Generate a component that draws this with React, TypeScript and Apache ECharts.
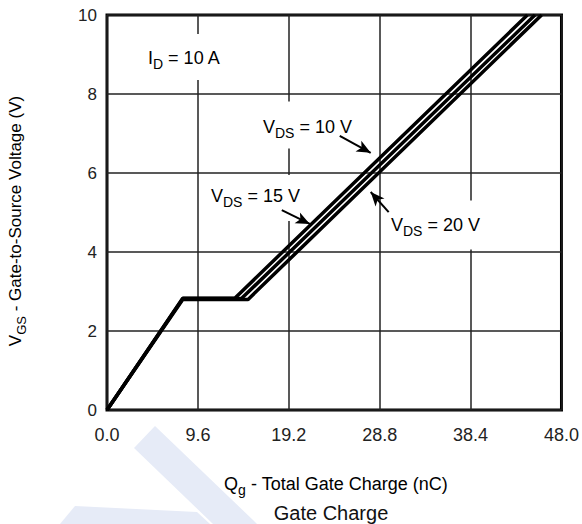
import React, { useEffect, useRef } from "react";
import * as echarts from "echarts";

// Gate charge curves: Qg (nC) vs VGS (V)
const vds10Q = [0, 8.0, 13.5, 44.4];
const vds10V = [0, 2.83, 2.83, 10];
const vds15Q = [0, 8.0, 14.2, 45.2];
const vds15V = [0, 2.82, 2.82, 10];
const vds20Q = [0, 8.0, 14.9, 45.9];
const vds20V = [0, 2.80, 2.80, 10];

// Annotation arrows (tail -> tip) in data coords
const arrow10 = [[24.58, 6.94], [27.85, 6.51]];
const arrow15 = [[18.46, 5.06], [21.42, 4.71]];
const arrow20 = [[29.75, 5.01], [27.85, 5.52]];

const FONT = "'Liberation Sans', Arial, sans-serif";
const TXT = "#222";

function pairs(q: number[], v: number[]) {
  return q.map((x, i) => [x, v[i]]);
}

export default function App() {
  const ref = useRef<HTMLDivElement>(null);
  useEffect(() => {
    if (!ref.current) return;
    const chart = echarts.init(ref.current, null, { renderer: "svg" });
    const lineStyle = { color: "#000", width: 3.5 };
    const mkArrow = (a: number[][]) => [
      { coord: a[0], symbol: "none" },
      { coord: a[1], symbol: "arrow" },
    ];
    const sub = (size: number) => ({
      fontSize: size,
      fontFamily: FONT,
      color: TXT,
      lineHeight: size,
      verticalAlign: "bottom",
    });
    const main = (size: number, extra = 6) => ({
      fontSize: size,
      fontFamily: FONT,
      color: TXT,
      lineHeight: size + extra,
    });
    const label = (x: number, y: number, text: string, pad: number[]) => ({
      type: "text",
      x,
      y,
      z: 1,
      style: {
        text,
        align: "left",
        verticalAlign: "middle",
        backgroundColor: "#fff",
        padding: pad,
        rich: { m: main(18, 8), s: sub(14) },
      },
    });
    chart.setOption({
      animation: false,
      backgroundColor: "#fff",
      grid: {
        left: 107,
        right: 20,
        top: 15,
        bottom: 114,
        show: true,
        borderColor: "#000",
        borderWidth: 3,
        backgroundColor: "transparent",
      },
      xAxis: {
        type: "value",
        min: 0,
        max: 48,
        interval: 9.6,
        axisLine: { show: false },
        axisTick: { show: false },
        splitLine: { show: true, lineStyle: { color: "#222", width: 1.5 } },
        axisLabel: {
          margin: 16,
          fontSize: 18,
          fontFamily: FONT,
          color: TXT,
          formatter: (v: number) => v.toFixed(1),
        },
      },
      yAxis: {
        type: "value",
        min: 0,
        max: 10,
        interval: 2,
        axisLine: { show: false },
        axisTick: { show: false },
        splitLine: { show: true, lineStyle: { color: "#222", width: 1.5 } },
        axisLabel: { margin: 10, fontSize: 17, fontFamily: FONT, color: TXT },
      },
      series: [
        {
          type: "line",
          z: 5,
          data: pairs(vds10Q, vds10V),
          symbol: "none",
          lineStyle,
          silent: true,
          markLine: {
            silent: true,
            symbolSize: [9, 14],
            lineStyle: { color: "#000", width: 2, type: "solid" },
            label: { show: false },
            data: [mkArrow(arrow10), mkArrow(arrow15), mkArrow(arrow20)],
          },
        },
        { type: "line", z: 5, data: pairs(vds15Q, vds15V), symbol: "none", lineStyle, silent: true },
        { type: "line", z: 5, data: pairs(vds20Q, vds20V), symbol: "none", lineStyle, silent: true },
      ],
      graphic: [
        {
          type: "polygon",
          z: -10,
          shape: { points: [[134, 448], [155, 426], [253, 520], [257, 524], [213, 524]] },
          style: { fill: "#e6ebf7" },
        },
        {
          type: "polygon",
          z: -10,
          shape: { points: [[75, 506], [197, 512], [210, 524], [60, 524]] },
          style: { fill: "#e6ebf7" },
        },
        label(145, 57, "{m|I}{s|D}{m| = 10 A}", [11, 3, 9, 3]),
        label(260, 125, "{m|V}{s|DS}{m| = 10 V}", [12, 3, 9, 3]),
        label(208, 198, "{m|V}{s|DS}{m| = 15 V}", [8, 3, 12, 3]),
        label(388, 225, "{m|V}{s|DS}{m| = 20 V}", [11, 3, 12, 3]),
        {
          type: "text",
          x: 15,
          y: 221,
          rotation: Math.PI / 2,
          style: {
            text: "{m|V}{s|GS}{m| - Gate-to-Source Voltage (V)}",
            align: "center",
            verticalAlign: "middle",
            rich: { m: main(17, 8), s: sub(13) },
          },
        },
        {
          type: "text",
          x: 336,
          y: 484,
          style: {
            text: "{m|Q}{s|g}{m| - Total Gate Charge (nC)}",
            align: "center",
            verticalAlign: "middle",
            rich: { m: main(18, 8), s: sub(14) },
          },
        },
        {
          type: "text",
          x: 331,
          y: 513,
          style: {
            text: "Gate Charge",
            align: "center",
            verticalAlign: "middle",
            fontSize: 20,
            fontFamily: FONT,
            fill: "#111",
          },
        },
      ],
    });
    return () => chart.dispose();
  }, []);
  return <div ref={ref} style={{ width: 582, height: 524, position: "fixed", left: 0, top: 0 }} />;
}
